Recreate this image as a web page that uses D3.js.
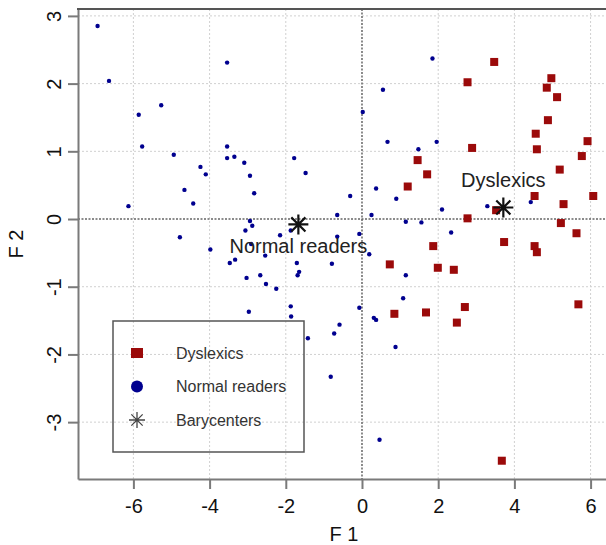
<!DOCTYPE html>
<html>
<head>
<meta charset="utf-8">
<script src="https://cdn.jsdelivr.net/npm/d3@7"></script>
<style>
  body { margin: 0; background: #fff; }
  svg { display: block; font-family: "Liberation Sans", Arial, sans-serif; }
</style>
</head>
<body>
<div id="chart"></div>
<script>
// dyslexic readers (F1, F2)
var dyslexicsF1 = [1.46, 3.47, 2.77, 4.97, 4.85, 5.12, 4.88, 4.56, 5.92, 2.89, 4.59, 5.77, 5.19, 1.20, 1.71,
  0.73, 0.85, 1.68, 4.53, 5.29, 6.07, 2.77, 5.22, 5.63, 3.73, 1.87, 4.53, 4.59, 1.99, 2.41, 2.70, 5.68, 2.49, 3.52, 3.67];
var dyslexicsF2 = [0.87, 2.32, 2.02, 2.08, 1.94, 1.80, 1.46, 1.26, 1.15, 1.05, 1.03, 0.93, 0.73, 0.48, 0.66,
  -0.67, -1.40, -1.38, 0.34, 0.22, 0.34, 0.01, -0.06, -0.21, -0.34, -0.40, -0.40, -0.49, -0.72, -0.75, -1.30, -1.26, -1.53, 0.13, -3.57];

// normal readers (F1, F2)
var normalF1 = [-6.94, -6.64, -5.86, -5.27, -5.77, -4.94, -4.24, -3.54, -3.54, -3.54, -3.35, -3.09, -1.78, 0.02, 0.55, 0.67, 1.48, 1.85, 1.96,
  -4.10, -4.66, -4.43, -6.13, -4.78, -3.98, -3.47, -3.33,
  -2.94, -2.83, -1.48, -0.31, 0.37, 0.90, -0.65, 0.25, 1.15, 1.56, -2.94, -2.88, -3.06, -2.15, -1.87, -0.65, -0.07, -2.91, -2.54,
  -1.71, -0.79, 0.19, -1.65, -1.69, -3.03, -2.67, -2.52, -2.25, 1.15, 1.08, -1.87, -2.97, -1.86, -0.07, 0.31, 0.37, -0.59,
  -0.73, -1.42, 0.88, -0.82, 0.46, 2.10, 2.34, 3.29, 4.43];
var normalF2 = [2.85, 2.04, 1.54, 1.68, 1.07, 0.95, 0.77, 2.31, 1.07, 0.90, 0.92, 0.83, 0.90, 1.58, 1.91, 1.14, 1.03, 2.37, 1.14,
  0.66, 0.43, 0.23, 0.19, -0.27, -0.45, -0.65, -0.60,
  0.64, 0.38, 0.68, 0.34, 0.45, 0.30, 0.06, 0.06, -0.04, -0.05, -0.03, -0.10, -0.17, -0.24, -0.17, -0.26, -0.22, -0.37, -0.54,
  -0.65, -0.66, -0.52, -0.78, -0.83, -0.87, -0.83, -0.96, -1.03, -0.83, -1.17, -1.29, -1.37, -1.44, -1.31, -1.46, -1.49, -1.56,
  -1.69, -1.76, -1.89, -2.33, -3.26, 0.14, -0.20, 0.19, 0.25];

// group barycenters
var baryNames = ["Normal readers", "Dyslexics"];
var baryF1 = [-1.67, 3.71];
var baryF2 = [-0.08, 0.17];

var tickValues = [-6, -4, -2, 0, 2, 4, 6];
var yTickValues = [-3, -2, -1, 0, 1, 2, 3];
var legendLabels = ["Dyslexics", "Normal readers", "Barycenters"];

var width = 606,
  height = 545,
  margin = { top: 9, left: 78, bottom: 66, right: -2 };

var red = "#9b0a0a",
  blue = "#00008f",
  axisColor = "#7a7a7a";

var chartWidth = width - margin.left - margin.right,
  chartHeight = height - margin.top - margin.bottom;

var x = d3.scaleLinear().domain([-7.454, 6.457]).range([0, chartWidth]);
var y = d3.scaleLinear().domain([-3.84, 3.102]).range([chartHeight, 0]);

// plain hyphen minus, integer labels
var fmt = d => String(d);

var svg = d3.select("#chart")
  .append("svg")
  .attr("width", width)
  .attr("height", height);

var chart = svg.append("g")
  .attr("transform", `translate(${margin.left}, ${margin.top})`);

//Add grid lines
chart.append("g")
  .selectAll("line")
  .data(tickValues.filter(d => d !== 0))
  .join("line")
  .attr("x1", d => x(d)).attr("x2", d => x(d))
  .attr("y1", 0).attr("y2", chartHeight)
  .attr("stroke", "#d0d0d0")
  .attr("stroke-width", 1)
  .attr("stroke-dasharray", "2,2");

chart.append("g")
  .selectAll("line")
  .data(yTickValues.filter(d => d !== 0))
  .join("line")
  .attr("x1", 0).attr("x2", chartWidth)
  .attr("y1", d => y(d)).attr("y2", d => y(d))
  .attr("stroke", "#d0d0d0")
  .attr("stroke-width", 1)
  .attr("stroke-dasharray", "2,2");

//Add zero lines
chart.append("line")
  .attr("x1", x(0)).attr("x2", x(0))
  .attr("y1", 0).attr("y2", chartHeight)
  .attr("stroke", "#666")
  .attr("stroke-width", 1.5)
  .attr("stroke-dasharray", "2,1.5");

chart.append("line")
  .attr("x1", 0).attr("x2", chartWidth)
  .attr("y1", y(0)).attr("y2", y(0))
  .attr("stroke", "#666")
  .attr("stroke-width", 1.5)
  .attr("stroke-dasharray", "2,1.5");

//Add dyslexics squares
var sq = 8;
chart.append("g")
  .selectAll("rect")
  .data(dyslexicsF1.map((d, i) => [d, dyslexicsF2[i]]))
  .join("rect")
  .attr("x", d => x(d[0]) - sq / 2)
  .attr("y", d => y(d[1]) - sq / 2)
  .attr("width", sq)
  .attr("height", sq)
  .attr("fill", red);

//Add normal readers dots
chart.append("g")
  .selectAll("circle")
  .data(normalF1.map((d, i) => [d, normalF2[i]]))
  .join("circle")
  .attr("cx", d => x(d[0]))
  .attr("cy", d => y(d[1]))
  .attr("r", 2.2)
  .attr("fill", blue);

// 8-arm asterisk path (R pch 8)
function asterisk(r) {
  var d = "";
  for (var k = 0; k < 4; k++) {
    var a = k * Math.PI / 4;
    var dx = r * Math.cos(a), dy = r * Math.sin(a);
    d += `M${-dx},${-dy}L${dx},${dy}`;
  }
  return d;
}

//Add barycenters
var bary = chart.append("g")
  .selectAll("g")
  .data(baryNames.map((d, i) => ({ name: d, f1: baryF1[i], f2: baryF2[i] })))
  .join("g")
  .attr("transform", d => `translate(${x(d.f1)}, ${y(d.f2)})`);

bary.append("path")
  .attr("d", asterisk(10))
  .attr("stroke", "#111")
  .attr("stroke-width", 2.2)
  .attr("fill", "none");

bary.append("text")
  .attr("text-anchor", "middle")
  .attr("y", d => d.name === "Dyslexics" ? -21 : 29)
  .attr("font-size", "20px")
  .attr("fill", "#222")
  .text(d => d.name);

//Add axes
var xAxis = chart.append("g")
  .attr("transform", `translate(0, ${chartHeight})`)
  .call(d3.axisBottom(x).tickValues(tickValues).tickFormat(fmt).tickSize(10).tickSizeOuter(0).tickPadding(10));

xAxis.select(".domain").attr("stroke", axisColor).attr("stroke-width", 2);
xAxis.selectAll(".tick line").attr("stroke", axisColor).attr("stroke-width", 2);
xAxis.selectAll(".tick text")
  .attr("font-size", "20px")
  .attr("font-family", "Liberation Sans, Arial, sans-serif")
  .attr("fill", "#111")
  .attr("dy", "0.72em");

var yAxis = chart.append("g")
  .call(d3.axisLeft(y).tickValues(yTickValues).tickFormat(fmt).tickSize(10).tickSizeOuter(0));

yAxis.select(".domain").attr("stroke", axisColor).attr("stroke-width", 2);
yAxis.selectAll(".tick line").attr("stroke", axisColor).attr("stroke-width", 2);
yAxis.selectAll(".tick text")
  .attr("font-size", "20px")
  .attr("font-family", "Liberation Sans, Arial, sans-serif")
  .attr("fill", "#111")
  .attr("x", 0)
  .attr("dy", 0)
  .attr("text-anchor", "middle")
  .attr("transform", "translate(-17, 0) rotate(-90)");

//Add top frame
chart.append("line")
  .attr("x1", -1).attr("x2", chartWidth)
  .attr("y1", 0).attr("y2", 0)
  .attr("stroke", "#555")
  .attr("stroke-width", 2);

//Add axis titles
svg.append("text")
  .attr("x", 344)
  .attr("y", 541)
  .attr("text-anchor", "middle")
  .attr("font-size", "20px")
  .attr("fill", "#111")
  .text("F 1");

svg.append("text")
  .attr("transform", "translate(23, 244) rotate(-90)")
  .attr("text-anchor", "middle")
  .attr("font-size", "20px")
  .attr("fill", "#111")
  .text("F 2");

//Add legend
var legend = svg.append("g").attr("transform", "translate(113, 321)");

legend.append("rect")
  .attr("width", 191)
  .attr("height", 131)
  .attr("fill", "none")
  .attr("stroke", "#555")
  .attr("stroke-width", 1.5);

var legendItems = legend.selectAll(".legend-item")
  .data(legendLabels)
  .join("g")
  .attr("class", "legend-item")
  .attr("transform", (d, i) => `translate(24, ${32 + i * 33.5})`);

legendItems.filter((d, i) => i === 0)
  .append("rect")
  .attr("x", -6).attr("y", -5)
  .attr("width", 12).attr("height", 10)
  .attr("fill", red);

legendItems.filter((d, i) => i === 1)
  .append("circle")
  .attr("r", 6)
  .attr("fill", blue);

legendItems.filter((d, i) => i === 2)
  .append("path")
  .attr("d", asterisk(8))
  .attr("stroke", "#444")
  .attr("stroke-width", 1.3)
  .attr("fill", "none");

legendItems.append("text")
  .attr("x", 39)
  .attr("dy", "0.36em")
  .attr("font-size", "16px")
  .attr("fill", "#333")
  .text(d => d);
</script>
</body>
</html>
